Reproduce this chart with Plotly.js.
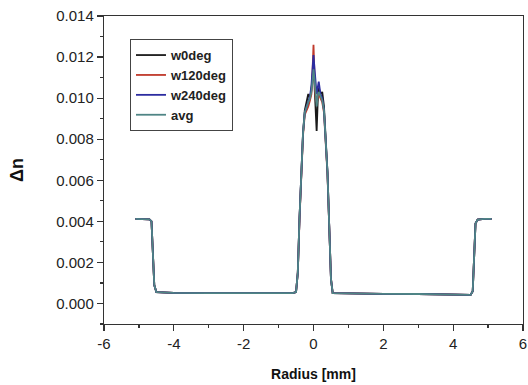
<!DOCTYPE html>
<html>
<head>
<meta charset="utf-8">
<script src="https://cdn.plot.ly/plotly-3.0.1.min.js"></script>
<style>html,body{margin:0;padding:0;background:#fff;}#chart{width:528px;height:385px;}</style>
</head>
<body>
<div id="chart"></div>
<script>
// Radius (mm)
const radius = [-5.1, -4.9, -4.7, -4.64, -4.6, -4.56, -4.5, -4, -3, -2, -1, -0.6, -0.5, -0.45, -0.4, -0.35, -0.3, -0.25, -0.2, -0.15, -0.1, -0.06, -0.03, 0, 0.03, 0.06, 0.09, 0.12, 0.15, 0.2, 0.25, 0.3, 0.35, 0.4, 0.45, 0.5, 0.55, 1, 2, 3, 4, 4.5, 4.56, 4.6, 4.64, 4.7, 4.9, 5.1];

// Δn values (x 1e-3)
const w0deg   = [4.12, 4.12, 4.10, 4.0, 2.5, 0.9, 0.55, 0.52, 0.50, 0.50, 0.50, 0.50, 0.55, 1.5, 4.2, 6.6, 8.3, 9.4, 9.9, 10.2, 10.0, 10.4, 11.0, 11.6, 10.6, 9.2, 8.4, 9.8, 10.5, 10.2, 10.3, 9.6, 8.1, 6.4, 3.8, 1.2, 0.5, 0.48, 0.47, 0.46, 0.44, 0.42, 0.6, 2.0, 3.9, 4.08, 4.12, 4.12];
const w120deg = [4.12, 4.12, 4.10, 4.0, 2.5, 0.9, 0.55, 0.52, 0.50, 0.50, 0.50, 0.50, 0.55, 1.5, 4.1, 6.5, 8.2, 9.2, 9.4, 9.6, 9.9, 10.2, 11.2, 12.6, 11.0, 10.0, 9.8, 10.0, 10.2, 10.0, 9.8, 9.3, 7.9, 6.3, 3.8, 1.2, 0.5, 0.48, 0.47, 0.46, 0.44, 0.42, 0.6, 2.0, 3.9, 4.08, 4.12, 4.12];
const w240deg = [4.12, 4.12, 4.10, 4.0, 2.5, 0.9, 0.55, 0.52, 0.50, 0.50, 0.50, 0.50, 0.55, 1.5, 4.2, 6.6, 8.3, 9.3, 9.6, 9.8, 10.1, 10.6, 11.5, 12.1, 11.4, 10.6, 10.2, 10.5, 10.8, 10.2, 10.0, 9.4, 8.0, 6.4, 3.8, 1.2, 0.5, 0.48, 0.47, 0.46, 0.44, 0.42, 0.6, 2.0, 3.9, 4.08, 4.12, 4.12];
const avg     = [4.12, 4.12, 4.10, 4.0, 2.5, 0.9, 0.55, 0.52, 0.50, 0.50, 0.50, 0.50, 0.55, 1.5, 4.2, 6.6, 8.3, 9.3, 9.6, 9.8, 10.0, 10.3, 10.8, 11.4, 10.9, 10.0, 9.6, 10.1, 10.3, 10.1, 9.9, 9.4, 8.0, 6.4, 3.8, 1.2, 0.5, 0.48, 0.47, 0.46, 0.44, 0.42, 0.6, 2.0, 3.9, 4.08, 4.12, 4.12];

const seriesNames = ['w0deg', 'w120deg', 'w240deg', 'avg'];
const seriesData = [w0deg, w120deg, w240deg, avg];
const seriesColors = ['#1a1a1a', '#c0392b', '#2c2ca0', '#4f8585'];

const yTickVals = [0, 0.002, 0.004, 0.006, 0.008, 0.010, 0.012, 0.014];
const xTickVals = [-6, -4, -2, 0, 2, 4, 6];

const traces = seriesNames.map((n, i) => ({
  x: radius,
  y: seriesData[i].map(v => v / 1000),
  name: n,
  type: 'scatter',
  mode: 'lines',
  line: {color: seriesColors[i], width: 1.8}
}));

const fontFam = '"Liberation Sans", Arial, sans-serif';
const layout = {
  width: 528, height: 385,
  margin: {l: 104, r: 5, t: 16, b: 61},
  paper_bgcolor: '#fff', plot_bgcolor: '#fff',
  font: {family: fontFam, size: 15, color: '#222'},
  showlegend: true,
  legend: {
    x: 0.062, y: 0.925, xanchor: 'left', yanchor: 'top',
    bgcolor: '#fff', bordercolor: '#444', borderwidth: 1,
    font: {family: fontFam, size: 13, color: '#222', weight: 'bold'},
    tracegroupgap: 0, itemwidth: 30
  },
  xaxis: {
    range: [-6, 6], tickvals: xTickVals, ticktext: xTickVals.map(String),
    ticks: 'outside', ticklen: 6, tickwidth: 1.2, tickcolor: '#333',
    minor: {dtick: 1, ticks: 'outside', ticklen: 3, tickcolor: '#333'},
    showline: true, linecolor: '#333', linewidth: 1.2, mirror: true,
    showgrid: false, zeroline: false,
    tickfont: {family: fontFam, size: 15, color: '#222'},
    title: {text: 'Radius [mm]', font: {family: fontFam, size: 14, color: '#111', weight: 'bold'}, standoff: 18}
  },
  yaxis: {
    range: [-0.001, 0.014], tickvals: yTickVals, ticktext: yTickVals.map(v => v.toFixed(3)),
    ticks: 'outside', ticklen: 6, tickwidth: 1.2, tickcolor: '#333',
    minor: {dtick: 0.001, tick0: 0.001, ticks: 'outside', ticklen: 3, tickcolor: '#333'},
    showline: true, linecolor: '#333', linewidth: 1.2, mirror: true,
    showgrid: false, zeroline: false,
    tickfont: {family: fontFam, size: 15, color: '#222'},
    title: {text: 'Δn', font: {family: fontFam, size: 18, color: '#111', weight: 'bold'}, standoff: 28}
  }
};

Plotly.newPlot('chart', traces, layout, {displayModeBar: false, staticPlot: true});
</script>
</body>
</html>
